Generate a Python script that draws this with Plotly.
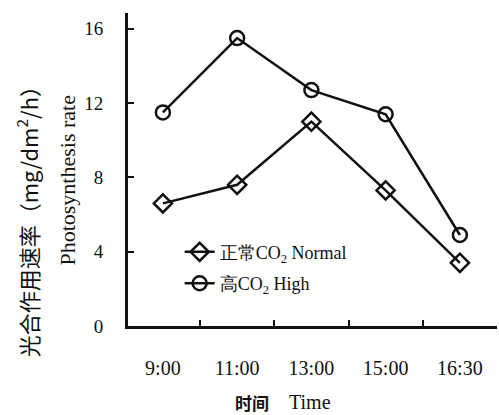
import plotly.graph_objects as go

times = ["9:00", "11:00", "13:00", "15:00", "16:30"]
normal = [6.6, 7.6, 11.0, 7.3, 3.4]
high = [11.5, 15.5, 12.7, 11.4, 4.9]
y_ticks = [0, 4, 8, 12, 16]

ink = "#111111"
font = "Liberation Serif, Times New Roman, serif"
cjk = "Noto Sans CJK SC"

fig = go.Figure()
fig.add_trace(go.Scatter(
    x=times, y=normal, mode="lines+markers", name="正常CO<sub>2</sub> Normal",
    legendgroup="n",
    line=dict(color=ink, width=2.5),
    marker=dict(symbol="diamond-open", size=14, color=ink, line=dict(width=2.5, color=ink)),
))
fig.add_trace(go.Scatter(
    x=times, y=high, mode="lines+markers", name="高CO<sub>2</sub> High",
    legendgroup="h",
    line=dict(color=ink, width=2.5),
    marker=dict(symbol="circle-open", size=14, color=ink, line=dict(width=2.5, color=ink)),
))

fig.update_layout(
    width=499, height=415,
    margin=dict(l=128, r=2, t=13, b=89),
    paper_bgcolor="white", plot_bgcolor="white",
    font=dict(family=font, size=16, color=ink),
    showlegend=True,
    legend=dict(x=0.14, y=0.295, xanchor="left", yanchor="top",
                bgcolor="rgba(0,0,0,0)", font=dict(size=18, family=font),
                tracegroupgap=5),
    xaxis=dict(
        type="category", range=[-0.47, 4.5],
        showline=True, linecolor=ink, linewidth=2.5,
        ticks="inside", tickson="boundaries", ticklen=6, tickwidth=2, tickcolor=ink,
        showgrid=False, zeroline=False,
        ticklabelstandoff=22,
        tickfont=dict(size=20, family=font),
    ),
    yaxis=dict(
        range=[0, 16.85], tickvals=y_ticks,
        showline=True, linecolor=ink, linewidth=3,
        ticks="inside", ticklen=6, tickwidth=2, tickcolor=ink,
        showgrid=False, zeroline=False,
        ticklabelstandoff=18,
        tickfont=dict(size=19, family=font),
    ),
)

fig.add_annotation(
    text="光合作用速率（mg/dm<sup>2</sup>/h）", xref="paper", yref="paper",
    x=-0.274, y=0.35, xanchor="center", yanchor="middle",
    textangle=-90, showarrow=False,
    font=dict(size=22, family=cjk, color=ink),
)
fig.add_annotation(
    text="Photosynthesis rate", xref="paper", yref="paper",
    x=-0.165, y=0.465, xanchor="center", yanchor="middle",
    textangle=-90, showarrow=False,
    font=dict(size=22, family=font, color=ink),
)
fig.add_annotation(
    text="<b>时间</b>", xref="paper", yref="paper",
    x=0.336, y=-0.244, xanchor="center", yanchor="middle", showarrow=False,
    font=dict(size=17, family=cjk, color=ink),
)
fig.add_annotation(
    text="Time", xref="paper", yref="paper",
    x=0.493, y=-0.244, xanchor="center", yanchor="middle", showarrow=False,
    font=dict(size=20, family=font, color=ink),
)

fig.write_html("out.html")
